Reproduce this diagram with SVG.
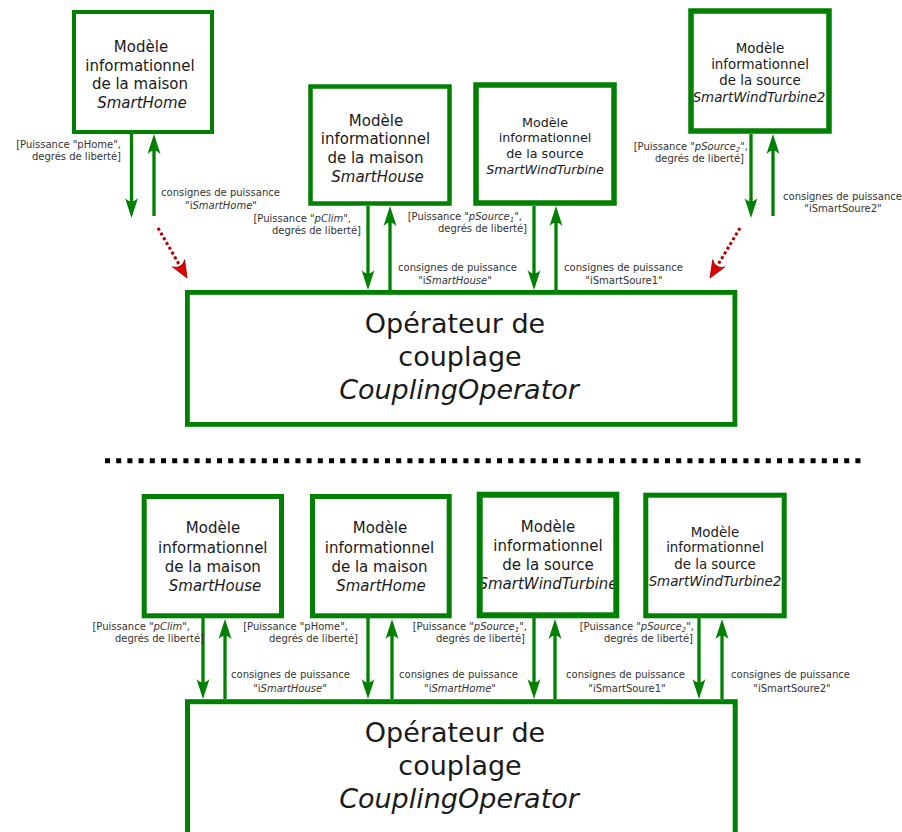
<svg xmlns="http://www.w3.org/2000/svg" width="902" height="832" viewBox="0 0 902 832">
<style>
.box{fill:none;stroke:#008000}
.bt{font-family:"DejaVu Sans","Liberation Sans",sans-serif;fill:#1a1a1a;text-anchor:middle}
.it{font-style:italic}
.lbl{font-family:"DejaVu Sans","Liberation Sans",sans-serif;font-size:10px;fill:#333}
.e{text-anchor:end}
.m{text-anchor:middle}
.conn{stroke:#008000;stroke-width:3.3;fill:none}
.red{stroke:#b00000;stroke-width:3;stroke-dasharray:3 2.5;fill:none}
</style>
<defs>
<marker id="ga" viewBox="-22 -8 24 16" refX="-10" refY="0" markerWidth="24" markerHeight="16" markerUnits="userSpaceOnUse" orient="auto"><path d="M0,0 L-20,-6.5 C-15.5,-2.5 -15.5,2.5 -20,6.5 Z" fill="#008000"/></marker>
<marker id="ra" viewBox="-20 -9 22 18" refX="-12" refY="0" markerWidth="22" markerHeight="18" markerUnits="userSpaceOnUse" orient="auto"><path d="M0,0 L-17,-7 C-12.5,-2.5 -12.5,2.5 -17,7 Z" fill="#e00000" stroke="#a00000" stroke-width="0.8"/></marker>
</defs>
<rect x="0" y="0" width="902" height="832" fill="#fff"/>

<g id="connectors">
<line class="conn" x1="131.5" y1="134" x2="131.5" y2="208" marker-end="url(#ga)"/>
<line class="conn" x1="154" y1="216" x2="154" y2="144" marker-end="url(#ga)"/>
<line class="conn" x1="368" y1="206" x2="368" y2="280" marker-end="url(#ga)"/>
<line class="conn" x1="390" y1="290" x2="390" y2="216" marker-end="url(#ga)"/>
<line class="conn" x1="534" y1="206" x2="534" y2="280" marker-end="url(#ga)"/>
<line class="conn" x1="556" y1="290" x2="556" y2="216" marker-end="url(#ga)"/>
<line class="conn" x1="751" y1="134" x2="751" y2="208" marker-end="url(#ga)"/>
<line class="conn" x1="773" y1="216" x2="773" y2="144" marker-end="url(#ga)"/>
<line class="red" x1="158" y1="228" x2="181" y2="267.6" marker-end="url(#ra)"/>
<line class="red" x1="740" y1="228" x2="716.2" y2="267.7" marker-end="url(#ra)"/>
<line class="conn" x1="203" y1="618" x2="203" y2="689" marker-end="url(#ga)"/>
<line class="conn" x1="225" y1="699" x2="225" y2="629" marker-end="url(#ga)"/>
<line class="conn" x1="368" y1="618" x2="368" y2="689" marker-end="url(#ga)"/>
<line class="conn" x1="392" y1="699" x2="392" y2="629" marker-end="url(#ga)"/>
<line class="conn" x1="534" y1="618" x2="534" y2="689" marker-end="url(#ga)"/>
<line class="conn" x1="555" y1="699" x2="555" y2="629" marker-end="url(#ga)"/>
<line class="conn" x1="699" y1="618" x2="699" y2="689" marker-end="url(#ga)"/>
<line class="conn" x1="722" y1="699" x2="722" y2="629" marker-end="url(#ga)"/>

<text class="lbl e" x="121" y="148">[Puissance "pHome",</text>
<text class="lbl e" x="121" y="159.5">degrés de liberté]</text>
<text class="lbl m" x="220.5" y="196">consignes de puissance</text>
<text class="lbl m" x="221" y="208.5">"i<tspan class="it">SmartHome</tspan>"</text>

<text class="lbl e" x="351" y="222">[Puissance "<tspan class="it">pClim</tspan>",</text>
<text class="lbl e" x="361" y="233.5">degrés de liberté]</text>
<text class="lbl m" x="457.5" y="271">consignes de puissance</text>
<text class="lbl m" x="455" y="284">"i<tspan class="it">SmartHouse</tspan>"</text>

<text class="lbl e" x="522" y="220">[Puissance "<tspan class="it">pSource<tspan font-size="7" dy="2">1</tspan></tspan><tspan dy="-2">",</tspan></text>
<text class="lbl e" x="527" y="232">degrés de liberté]</text>
<text class="lbl m" x="623.5" y="271">consignes de puissance</text>
<text class="lbl m" x="624" y="284">"iSmartSoure1"</text>

<text class="lbl e" x="748" y="150">[Puissance "<tspan class="it">pSource<tspan font-size="7" dy="2">2</tspan></tspan><tspan dy="-2">",</tspan></text>
<text class="lbl e" x="744" y="162">degrés de liberté]</text>
<text class="lbl m" x="842.5" y="199.5">consignes de puissance</text>
<text class="lbl m" x="843" y="212">"iSmartSoure2"</text>

<text class="lbl e" x="190" y="630">[Puissance "<tspan class="it">pClim</tspan>",</text>
<text class="lbl e" x="204" y="642">degrés de liberté]</text>
<text class="lbl m" x="290.5" y="678">consignes de puissance</text>
<text class="lbl m" x="290" y="692">"i<tspan class="it">SmartHouse</tspan>"</text>

<text class="lbl e" x="348" y="630">[Puissance "pHome",</text>
<text class="lbl e" x="358" y="642">degrés de liberté]</text>
<text class="lbl m" x="458.5" y="678">consignes de puissance</text>
<text class="lbl m" x="460" y="692">"i<tspan class="it">SmartHome</tspan>"</text>

<text class="lbl e" x="527" y="630">[Puissance "<tspan class="it">pSource<tspan font-size="7" dy="2">1</tspan></tspan><tspan dy="-2">",</tspan></text>
<text class="lbl e" x="525" y="642">degrés de liberté]</text>
<text class="lbl m" x="625.5" y="678">consignes de puissance</text>
<text class="lbl m" x="627" y="692">"iSmartSoure1"</text>

<text class="lbl e" x="694" y="630">[Puissance "<tspan class="it">pSource<tspan font-size="7" dy="2">2</tspan></tspan><tspan dy="-2">",</tspan></text>
<text class="lbl e" x="693" y="642">degrés de liberté]</text>
<text class="lbl m" x="790.5" y="678">consignes de puissance</text>
<text class="lbl m" x="792" y="692">"iSmartSoure2"</text>
</g>

<g id="n-smarthome-top">
<text class="bt" font-size="15" x="141" y="52">Modèle</text>
<text class="bt" font-size="15" x="140" y="70.5">informationnel</text>
<text class="bt" font-size="15" x="140" y="89">de la maison</text>
<text class="bt it" font-size="15" x="142" y="107.5">SmartHome</text>
<rect class="box" x="74" y="12" width="138" height="120" stroke-width="4"/>
</g>

<g id="n-smarthouse-top">
<text class="bt" font-size="15" x="376" y="125.5">Modèle</text>
<text class="bt" font-size="15" x="375.5" y="144.3">informationnel</text>
<text class="bt" font-size="15" x="375.5" y="163">de la maison</text>
<text class="bt it" font-size="15" x="377.5" y="182">SmartHouse</text>
<rect class="box" x="310.5" y="86.5" width="139" height="117" stroke-width="4.5"/>
</g>

<g id="n-smartwind-top">
<text class="bt" font-size="12.7" x="545" y="126.5">Modèle</text>
<text class="bt" font-size="12.7" x="545" y="142">informationnel</text>
<text class="bt" font-size="12.7" x="545" y="158.3">de la source</text>
<text class="bt it" font-size="12.7" x="545" y="174.3">SmartWindTurbine</text>
<rect class="box" x="476" y="85" width="138" height="118" stroke-width="5.5"/>
</g>

<g id="n-smartwind2-top">
<text class="bt" font-size="13.4" x="760" y="52.5">Modèle</text>
<text class="bt" font-size="13.4" x="760" y="68.5">informationnel</text>
<text class="bt" font-size="13.4" x="760" y="85">de la source</text>
<text class="bt it" font-size="13.4" x="759" y="101.5">SmartWindTurbine2</text>
<rect class="box" x="691" y="11" width="138" height="120" stroke-width="5.5"/>
</g>

<g id="n-coupling-top">
<text class="bt" font-size="27" x="455" y="333">Opérateur de</text>
<text class="bt" font-size="27" x="460" y="366">couplage</text>
<text class="bt it" font-size="27" x="459" y="399">CouplingOperator</text>
<rect class="box" x="187.4" y="292.4" width="547.5" height="132" stroke-width="4.8"/>
</g>

<g id="separator">
<line x1="105" y1="460.7" x2="863" y2="460.7" stroke="#000" stroke-width="5" stroke-dasharray="5 6.2"/>
</g>

<g id="n-smarthouse-bottom">
<text class="bt" font-size="15" x="213" y="533.3">Modèle</text>
<text class="bt" font-size="15" x="212.8" y="553">informationnel</text>
<text class="bt" font-size="15" x="212.8" y="571.7">de la maison</text>
<text class="bt it" font-size="15" x="215" y="590.5">SmartHouse</text>
<rect class="box" x="144.2" y="496.5" width="137.3" height="119.3" stroke-width="5"/>
</g>

<g id="n-smarthome-bottom">
<text class="bt" font-size="15" x="380" y="533.3">Modèle</text>
<text class="bt" font-size="15" x="379.5" y="553">informationnel</text>
<text class="bt" font-size="15" x="379.5" y="571.7">de la maison</text>
<text class="bt it" font-size="15" x="381" y="590.5">SmartHome</text>
<rect class="box" x="312.5" y="496.5" width="136.7" height="119.3" stroke-width="5"/>
</g>

<g id="n-smartwind-bottom">
<text class="bt" font-size="15" x="548" y="532">Modèle</text>
<text class="bt" font-size="15" x="548" y="551">informationnel</text>
<text class="bt" font-size="15" x="548" y="569.5">de la source</text>
<text class="bt it" font-size="15" x="548" y="589">SmartWindTurbine</text>
<rect class="box" x="479.7" y="494.7" width="136.6" height="120.6" stroke-width="6"/>
</g>

<g id="n-smartwind2-bottom">
<text class="bt" font-size="13.4" x="715" y="536.7">Modèle</text>
<text class="bt" font-size="13.4" x="715" y="552">informationnel</text>
<text class="bt" font-size="13.4" x="715" y="568.5">de la source</text>
<text class="bt it" font-size="13.4" x="715" y="585.5">SmartWindTurbine2</text>
<rect class="box" x="645.8" y="495.2" width="138.4" height="120.6" stroke-width="5"/>
</g>

<g id="n-coupling-bottom">
<text class="bt" font-size="27" x="455" y="742">Opérateur de</text>
<text class="bt" font-size="27" x="460" y="775">couplage</text>
<text class="bt it" font-size="27" x="459" y="808">CouplingOperator</text>
<rect class="box" x="187.5" y="701.7" width="547.7" height="200" stroke-width="5"/>
</g>
</svg>
